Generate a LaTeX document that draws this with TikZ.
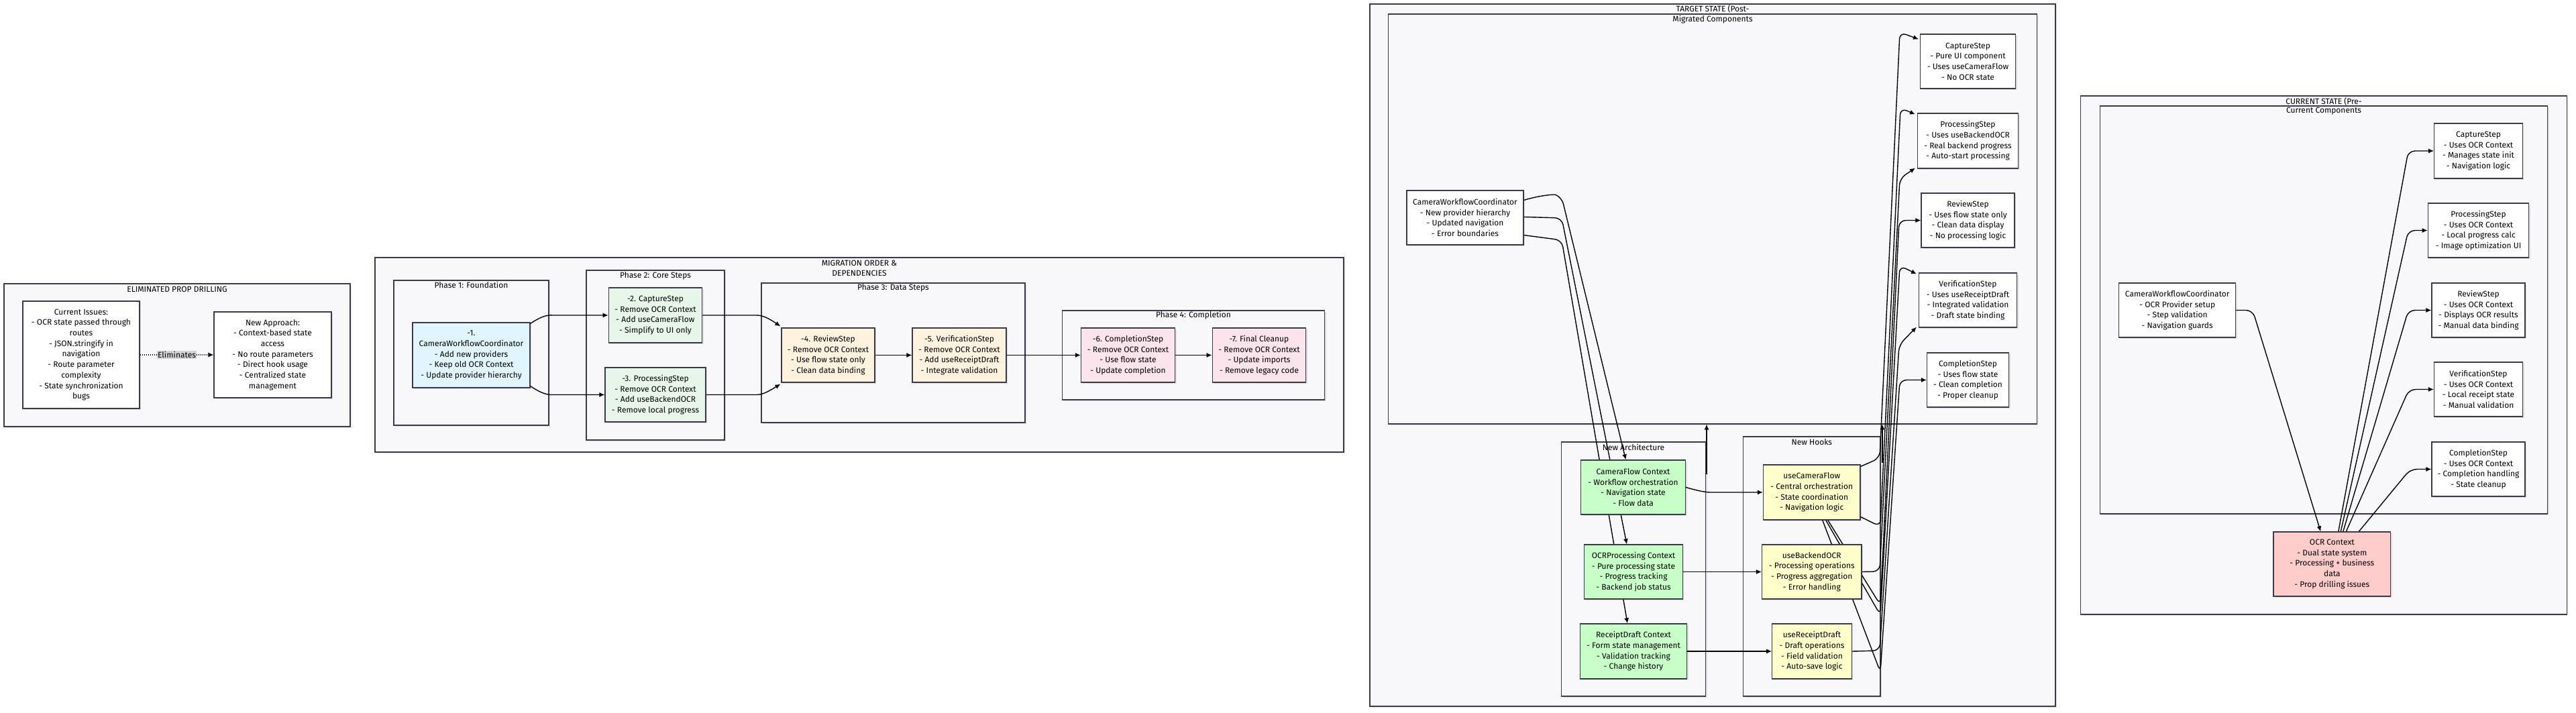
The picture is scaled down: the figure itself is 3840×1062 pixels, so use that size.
\documentclass[tikz,border=0pt]{standalone}
\usepackage{fontspec}
\setmainfont{Fira Sans}
\usetikzlibrary{arrows.meta,shadows,calc}

\definecolor{boxline}{HTML}{3A3A4A}
\definecolor{clusterfill}{HTML}{F8F8FA}
\definecolor{phaseblue}{HTML}{E1F5FE}
\definecolor{phasegreen}{HTML}{E8F5E9}
\definecolor{phaseorange}{HTML}{FFF3E0}
\definecolor{phasepink}{HTML}{FCE4EC}
\definecolor{ctxgreen}{HTML}{C8FFC8}
\definecolor{hookyellow}{HTML}{FFFFCC}
\definecolor{ocrred}{HTML}{FFCCCC}

\pgfdeclarelayer{bg}
\pgfdeclarelayer{edges}
\pgfsetlayers{bg,edges,main}

\newcommand{\diagfont}{\fontsize{12bp}{15.7bp}\selectfont}

\tikzset{
  box/.style={draw=boxline, line width=1.1bp, fill=white, align=center,
    inner sep=0pt, font=\diagfont,
    drop shadow={shadow xshift=2bp, shadow yshift=-2bp, fill=black, opacity=0.1}},
  cluster/.style={box, fill=clusterfill},
  ctitle/.style={font=\diagfont, inner sep=0pt, align=center},
  edge/.style={line width=1.4bp, -{Latex[length=8bp, width=7bp]}, rounded corners=10bp},
  elabel/.style={fill=gray!35, inner sep=1.5bp, font=\diagfont},
}

\begin{document}
\begin{tikzpicture}[x=1bp, y=-1bp]
  \useasboundingbox (0,0) rectangle (3840,1062);

  % ---- subgraph frames ----
  \begin{pgfonlayer}{bg}
    \fill[white] (0,0) rectangle (3840,1062);
    \node[cluster, minimum width=516bp, minimum height=213bp] (elim) at (264,529.5) {};
    \node[cluster, minimum width=1444bp, minimum height=290bp] (mig) at (1281,529) {};
    \node[cluster, minimum width=231bp, minimum height=216bp] (phaseA) at (702.5,526) {};
    \node[cluster, minimum width=206bp, minimum height=253bp] (phaseB) at (977,529.5) {};
    \node[cluster, minimum width=393bp, minimum height=208bp] (phaseC) at (1331.5,526) {};
    \node[cluster, minimum width=391.5bp, minimum height=133bp] (phaseD) at (1779,529.5) {};
    \node[cluster, minimum width=1022bp, minimum height=1047bp] (target) at (2553,529.5) {};
    \node[cluster, minimum width=966.5bp, minimum height=611bp] (migrated) at (2553,326.5) {};
    \node[cluster, minimum width=215bp, minimum height=379bp] (newarch) at (2435,848.5) {};
    \node[cluster, minimum width=204.5bp, minimum height=387bp] (newhooks) at (2700.75,844.5) {};
    \node[cluster, minimum width=724.5bp, minimum height=773bp] (current) at (3464,529.5) {};
    \node[cluster, minimum width=667.5bp, minimum height=608bp] (curcomp) at (3464,462) {};
  \end{pgfonlayer}

  \node[ctitle] (elimtitle) at (264,431) {ELIMINATED PROP DRILLING};
  \node[ctitle] (migtitle) at (1281,400) {MIGRATION ORDER \&\\DEPENDENCIES};
  \node[ctitle] (phaseAtitle) at (702.5,425) {Phase 1: Foundation};
  \node[ctitle] (phaseBtitle) at (977,411) {Phase 2: Core Steps};
  \node[ctitle] (phaseCtitle) at (1331.5,429) {Phase 3: Data Steps};
  \node[ctitle] (phaseDtitle) at (1779,470) {Phase 4: Completion};
  \node[ctitle] (targettitle) at (2553,13) {TARGET STATE (Post-};
  \node[ctitle] (migratedtitle) at (2553,29) {Migrated Components};
  \node[ctitle] (newarchtitle) at (2435,667) {New Architecture};
  \node[ctitle] (newhookstitle) at (2700.75,659) {New Hooks};
  \node[ctitle] (currenttitle) at (3464,151) {CURRENT STATE (Pre-};
  \node[ctitle] (curcomptitle) at (3464,166) {Current Components};

  % ---- eliminated prop drilling ----
  \node[box, minimum width=174bp, minimum height=160bp] (issues) at (121,529)
    {Current Issues:\\- OCR state passed through\\routes\\- JSON.stringify in\\navigation\\- Route parameter\\complexity\\- State synchronization\\bugs};
  \node[box, minimum width=175bp, minimum height=128bp] (approach) at (406.5,529)
    {New Approach:\\- Context-based state\\access\\- No route parameters\\- Direct hook usage\\- Centralized state\\management};

  % ---- migration order ----
  \node[box, fill=phaseblue, minimum width=175bp, minimum height=97bp] (n1) at (702.5,529.5)
    {-1.\\CameraWorkflowCoordinator\\- Add new providers\\- Keep old OCR Context\\- Update provider hierarchy};
  \node[box, fill=phasegreen, minimum width=139.5bp, minimum height=82bp] (n2) at (977,470)
    {-2. CaptureStep\\- Remove OCR Context\\- Add useCameraFlow\\- Simplify to UI only};
  \node[box, fill=phasegreen, minimum width=150bp, minimum height=81bp] (n3) at (977,588.5)
    {-3. ProcessingStep\\- Remove OCR Context\\- Add useBackendOCR\\- Remove local progress};
  \node[box, fill=phaseorange, minimum width=139bp, minimum height=81bp] (n4) at (1234.5,529.5)
    {-4. ReviewStep\\- Remove OCR Context\\- Use flow state only\\- Clean data binding};
  \node[box, fill=phaseorange, minimum width=140bp, minimum height=81bp] (n5) at (1430,529.5)
    {-5. VerificationStep\\- Remove OCR Context\\- Add useReceiptDraft\\- Integrate validation};
  \node[box, fill=phasepink, minimum width=140bp, minimum height=81bp] (n6) at (1681.5,529.5)
    {-6. CompletionStep\\- Remove OCR Context\\- Use flow state\\- Update completion};
  \node[box, fill=phasepink, minimum width=139.5bp, minimum height=81bp] (n7) at (1877,529.5)
    {-7. Final Cleanup\\- Remove OCR Context\\- Update imports\\- Remove legacy code};

  % ---- target state ----
  \node[box, minimum width=174bp, minimum height=81bp] (tcoord) at (2184,324.5)
    {CameraWorkflowCoordinator\\- New provider hierarchy\\- Updated navigation\\- Error boundaries};
  \node[box, minimum width=142bp, minimum height=81bp] (tcap) at (2933.5,91.5)
    {CaptureStep\\- Pure UI component\\- Uses useCameraFlow\\- No OCR state};
  \node[box, minimum width=150bp, minimum height=82bp] (tproc) at (2933.5,210)
    {ProcessingStep\\- Uses useBackendOCR\\- Real backend progress\\- Auto-start processing};
  \node[box, minimum width=139bp, minimum height=81bp] (trev) at (2933.5,328.5)
    {ReviewStep\\- Uses flow state only\\- Clean data display\\- No processing logic};
  \node[box, minimum width=146bp, minimum height=81bp] (tver) at (2933.5,447.5)
    {VerificationStep\\- Uses useReceiptDraft\\- Integrated validation\\- Draft state binding};
  \node[box, minimum width=122bp, minimum height=81bp] (tcomp) at (2933.5,566.5)
    {CompletionStep\\- Uses flow state\\- Clean completion\\- Proper cleanup};
  \node[box, fill=ctxgreen, minimum width=156bp, minimum height=81bp] (cfctx) at (2434.5,726.5)
    {CameraFlow Context\\- Workflow orchestration\\- Navigation state\\- Flow data};
  \node[box, fill=ctxgreen, minimum width=146.5bp, minimum height=81bp] (ocrpctx) at (2435,852.5)
    {OCRProcessing Context\\- Pure processing state\\- Progress tracking\\- Backend job status};
  \node[box, fill=ctxgreen, minimum width=159.5bp, minimum height=82bp] (rdctx) at (2435,971)
    {ReceiptDraft Context\\- Form state management\\- Validation tracking\\- Change history};
  \node[box, fill=hookyellow, minimum width=144.5bp, minimum height=82bp] (hcam) at (2700.75,734)
    {useCameraFlow\\- Central orchestration\\- State coordination\\- Navigation logic};
  \node[box, fill=hookyellow, minimum width=148.5bp, minimum height=81bp] (hocr) at (2700.75,852.5)
    {useBackendOCR\\- Processing operations\\- Progress aggregation\\- Error handling};
  \node[box, fill=hookyellow, minimum width=118.5bp, minimum height=82bp] (hdraft) at (2701,971)
    {useReceiptDraft\\- Draft operations\\- Field validation\\- Auto-save logic};

  % ---- current state ----
  \node[box, minimum width=174bp, minimum height=81bp] (ccoord) at (3245.7,462.5)
    {CameraWorkflowCoordinator\\- OCR Provider setup\\- Step validation\\- Navigation guards};
  \node[box, minimum width=131.7bp, minimum height=82bp] (ccap) at (3694.5,225)
    {CaptureStep\\- Uses OCR Context\\- Manages state init\\- Navigation logic};
  \node[box, minimum width=150.5bp, minimum height=81bp] (cproc) at (3694.5,343.5)
    {ProcessingStep\\- Uses OCR Context\\- Local progress calc\\- Image optimization UI};
  \node[box, minimum width=139bp, minimum height=81bp] (crev) at (3694.5,462.5)
    {ReviewStep\\- Uses OCR Context\\- Displays OCR results\\- Manual data binding};
  \node[box, minimum width=132bp, minimum height=81bp] (cver) at (3694.5,580.5)
    {VerificationStep\\- Uses OCR Context\\- Local receipt state\\- Manual validation};
  \node[box, minimum width=139bp, minimum height=81bp] (ccomp) at (3694.5,699.5)
    {CompletionStep\\- Uses OCR Context\\- Completion handling\\- State cleanup};
  \node[box, fill=ocrred, minimum width=174.6bp, minimum height=96bp] (ocrctx) at (3476.3,841)
    {OCR Context\\- Dual state system\\- Processing + business\\data\\- Prop drilling issues};

  \coordinate (archup) at (2544,707);
  \coordinate (hooksup) at (2806,690);

  % ---- connectors ----
  \begin{pgfonlayer}{edges}
    \draw[line width=1.4bp, dash pattern=on 1.5bp off 1.5bp, -{Latex[length=8bp, width=7bp]}]
      (issues.east) -- node[elabel] (elimlbl) {Eliminates} (approach.west);

    \draw[edge] ($(n1.north east)+(0,2)$) .. controls (812,468) and (820,470) .. (835,470) -- (n2.west);
    \draw[edge] ($(n1.south east)+(0,-3)$) .. controls (812,590) and (820,588.5) .. (835,588.5) -- (n3.west);
    \draw[edge] (n2.east) -- (1118,470) .. controls (1138,470) and (1148,476) .. ($(n4.north west)+(-1,-2)$);
    \draw[edge] (n3.east) -- (1118,588.5) .. controls (1138,588.5) and (1148,582) .. ($(n4.south west)+(-1,2)$);
    \draw[edge] (n4.east) -- (n5.west);
    \draw[edge] (n5.east) -- (n6.west);
    \draw[edge] (n6.east) -- (n7.west);

    \draw[edge] ($(tcoord.north east)+(0,15)$) .. controls (2300,290) and (2318,290) .. (2328,294) -- ($(cfctx.north)+(-11,0)$);
    \draw[edge] ($(tcoord.north east)+(0,40)$) -- (2328,325) -- ($(ocrpctx.north)+(-10,0)$);
    \draw[edge] ($(tcoord.south east)+(0,-15)$) -- (2328,358) -- ($(rdctx.north)+(-9,0)$);
    \draw[edge] (cfctx.east) .. controls (2535,733) and (2545,734) .. (2560,734) -- (hcam.west);
    \draw[edge] (ocrpctx.east) -- (hocr.west);
    \draw[edge] (rdctx.east) -- (hdraft.west);

    \draw[edge] ($(hcam.north east)+(0,3)$) -- (2802,683) -- (2832,48) -- ($(tcap.north west)+(-2,8)$);
    \draw[edge] ($(hcam.south east)+(0,-5)$) -- (2803,785) -- (2833,161) -- ($(tproc.north west)+(-3,2)$);
    \draw[edge] (hocr.east) -- (2802,852) -- (2832,266) -- ($(tproc.south west)+(-3,-1)$);
    \draw[edge] ($(hcam.south)+(24,0)$) -- (2803,902) -- (2831,328.5) -- (trev.west);
    \draw[edge] ($(hcam.south)+(21,0)$) -- (2803,917) -- (2832,396) -- ($(tver.north west)+(-3,2)$);
    \draw[edge] (hdraft.east) -- (2802,970) -- (2831,514) -- ($(tver.south west)+(-3,-1)$);
    \draw[edge] ($(hcam.south)+(16,0)$) -- (2803,1002) -- (2832,566.5) -- (tcomp.west);
    \draw[edge] (archup) -- (archup |- migrated.south);
    \draw[edge] (hooksup) -- (hooksup |- migrated.south);

    \draw[edge] (ccoord.east) -- (3358,462.5) -- ($(ocrctx.north)+(-17,0)$);
    \draw[edge] ($(ocrctx.north)+(9.5,0)$) -- (3590,225) -- (ccap.west);
    \draw[edge] ($(ocrctx.north)+(13,0)$) -- (3590,343.5) -- (cproc.west);
    \draw[edge] ($(ocrctx.north)+(16.5,0)$) -- (3590,462.5) -- (crev.west);
    \draw[edge] ($(ocrctx.north)+(21,0)$) -- (3591,580.5) -- (cver.west);
    \draw[edge] ($(ocrctx.north)+(40,0)$) -- (3593,699.5) -- (ccomp.west);
  \end{pgfonlayer}
\end{tikzpicture}
\end{document}
